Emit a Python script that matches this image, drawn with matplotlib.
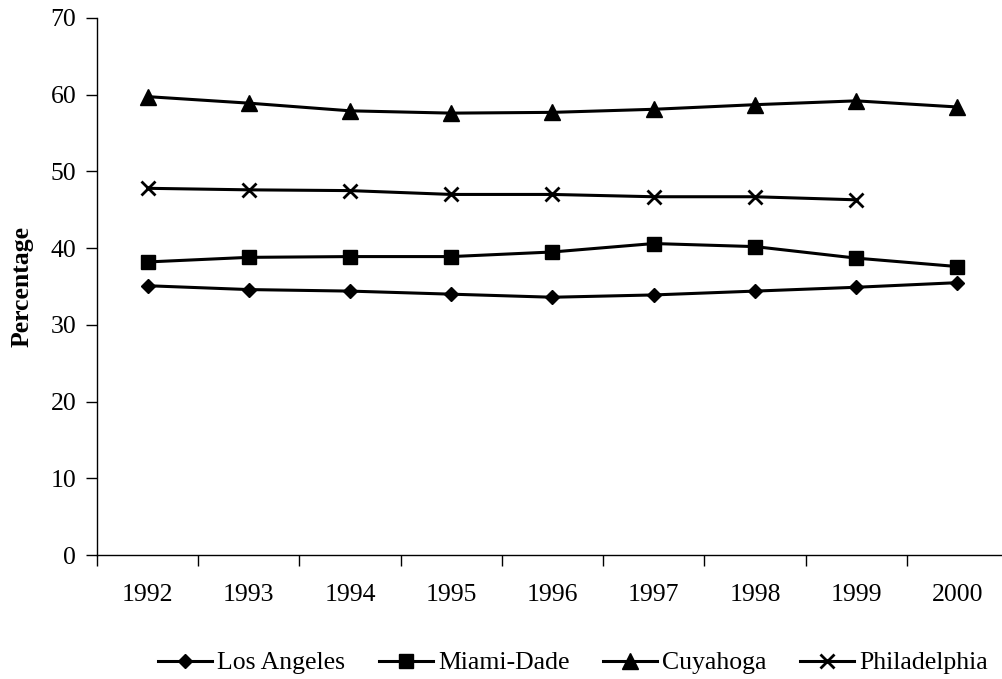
import matplotlib
matplotlib.use("Agg")
import matplotlib.pyplot as plt
from matplotlib.ticker import FixedLocator, NullFormatter, FixedFormatter

years = ["1992", "1993", "1994", "1995", "1996", "1997", "1998", "1999", "2000"]
los_angeles = [35.1, 34.6, 34.4, 34.0, 33.6, 33.9, 34.4, 34.9, 35.5]
miami_dade = [38.2, 38.8, 38.9, 38.9, 39.5, 40.6, 40.2, 38.7, 37.6]
cuyahoga = [59.75, 58.9, 57.9, 57.6, 57.7, 58.1, 58.7, 59.2, 58.4]
philadelphia = [47.8, 47.6, 47.5, 47.0, 47.0, 46.7, 46.7, 46.3]

plt.rcParams["font.family"] = ["Liberation Serif", "DejaVu Serif"]
FS = 18.5

W, H = 1002, 679
fig = plt.figure(figsize=(W / 100, H / 100), dpi=100)
left, right, bottom, top = 97, 1008, 555, 18
ax = fig.add_axes([left / W, 1 - bottom / H, (right - left) / W, (bottom - top) / H])

x = list(range(len(years)))
lw = 2.2
ax.plot(x, los_angeles, color="black", lw=lw, marker="D", ms=7.5, label="Los Angeles")
ax.plot(x, miami_dade, color="black", lw=lw, marker="s", ms=10.5, label="Miami-Dade")
ax.plot(x, cuyahoga, color="black", lw=lw, marker="^", ms=11, label="Cuyahoga")
ax.plot(x[:len(philadelphia)], philadelphia, color="black", lw=lw, marker="x",
        ms=10, mew=2, label="Philadelphia")

ax.set_xlim(-0.5, len(years) - 0.5)
ax.set_ylim(0, 70)
ax.set_yticks(range(0, 71, 10))
ax.xaxis.set_major_locator(FixedLocator(x))
ax.xaxis.set_major_formatter(FixedFormatter(years))
ax.xaxis.set_minor_locator(FixedLocator([i - 0.5 for i in range(len(years) + 1)]))
ax.xaxis.set_minor_formatter(NullFormatter())
ax.tick_params(axis="x", which="major", length=0, pad=21, labelsize=FS)
ax.tick_params(axis="x", which="minor", length=8, width=1, direction="out")
ax.tick_params(axis="y", length=8, width=1, direction="out", labelsize=FS, pad=7)

for side in ("top", "right"):
    ax.spines[side].set_visible(False)
for side in ("left", "bottom"):
    ax.spines[side].set_linewidth(1)

ax.set_ylabel("Percentage", fontsize=FS, fontweight="bold", labelpad=12)

fig.legend(loc="center", bbox_to_anchor=(573 / W, 1 - 663 / H), ncol=4, frameon=False,
           fontsize=FS, handlelength=2.1, handletextpad=0.2, columnspacing=1.3,
           borderpad=0)

fig.savefig("out.png", dpi=100)
